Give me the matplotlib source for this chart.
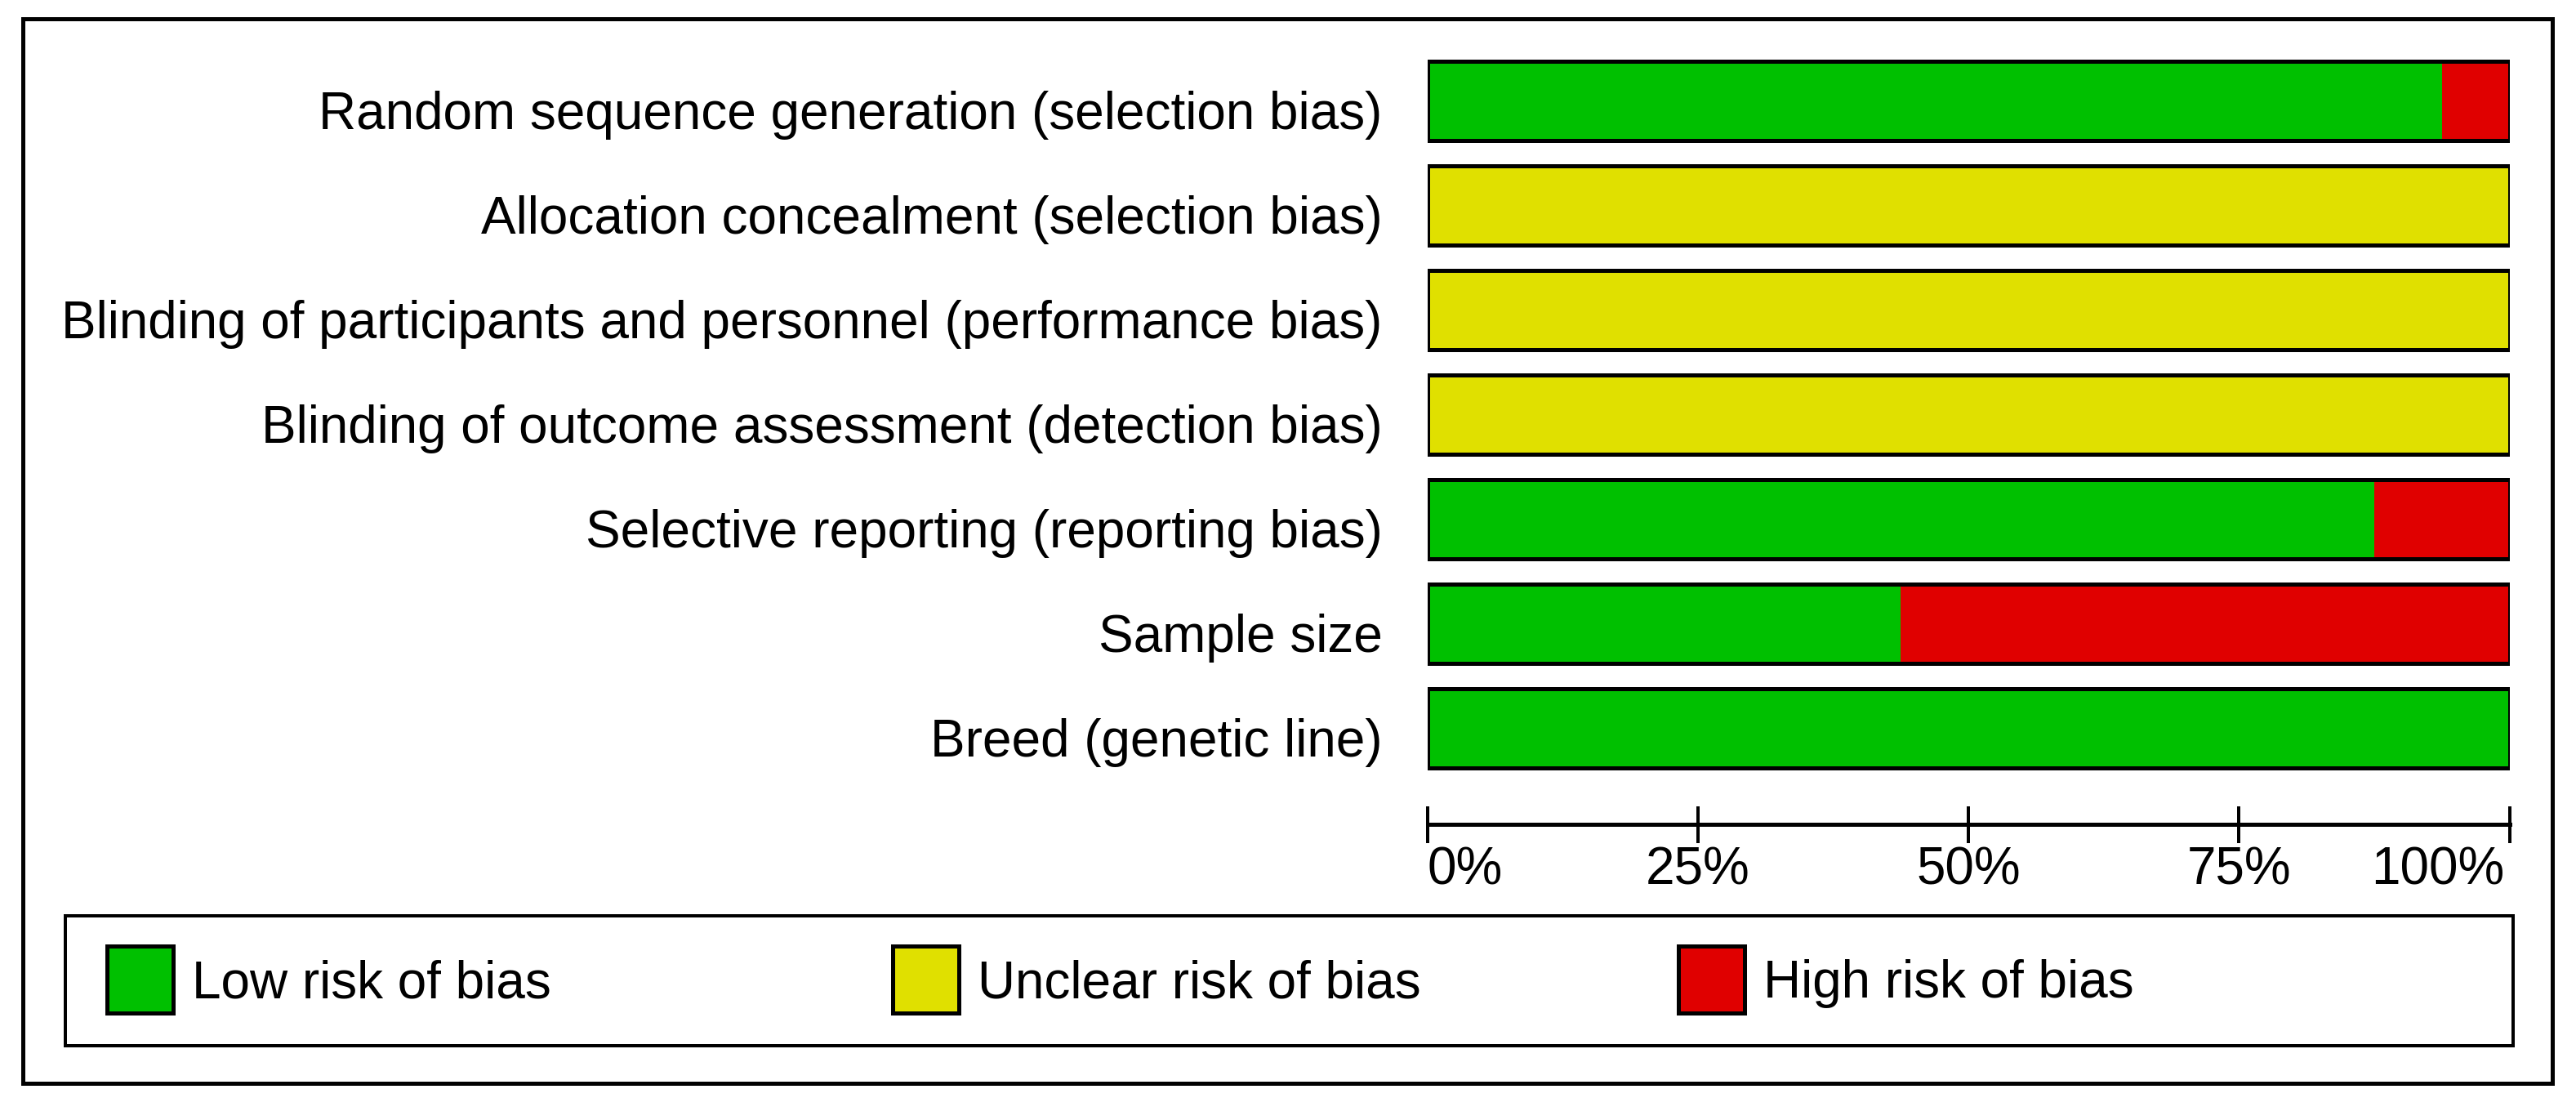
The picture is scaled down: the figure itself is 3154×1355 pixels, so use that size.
import matplotlib
matplotlib.use('Agg')
import matplotlib.pyplot as plt
from matplotlib.patches import Rectangle
from matplotlib.transforms import offset_copy, ScaledTranslation
import numpy as np

# ---- data ----
domains = [
    "Random sequence generation (selection bias)",
    "Allocation concealment (selection bias)",
    "Blinding of participants and personnel (performance bias)",
    "Blinding of outcome assessment (detection bias)",
    "Selective reporting (reporting bias)",
    "Sample size",
    "Breed (genetic line)",
]
low = [93.75, 0, 0, 0, 87.5, 43.75, 100]
unclear = [0, 100, 100, 100, 0, 0, 0]
high = [6.25, 0, 0, 0, 12.5, 56.25, 0]
ticks = [0, 25, 50, 75, 100]
tick_labels = ["0%", "25%", "50%", "75%", "100%"]
legend_labels = ["Low risk of bias", "Unclear risk of bias", "High risk of bias"]
colors = ["#00C000", "#E0E000", "#E00000"]

# ---- layout helpers (pixel -> figure fraction) ----
W, H = 3154, 1355
DPI = 100
plt.rcParams['font.family'] = ['Liberation Sans', 'DejaVu Sans']
FS = 46

fig = plt.figure(figsize=(W / DPI, H / DPI), dpi=DPI)
fig.patch.set_facecolor('white')


def fx(x):
    return x / W


def fy(y):
    return 1 - y / H


def pt(px):
    return px * 72 / DPI


def frame_rect(x0, y0, x1, y1, lw, **kw):
    r = Rectangle((fx(x0), fy(y1)), fx(x1) - fx(x0), fy(y0) - fy(y1),
                  transform=fig.transFigure, lw=pt(lw), **kw)
    fig.patches.append(r)
    return r


# outer frame
frame_rect(27.5, 22.5, 3124.5, 1325.5, 5, fill=False, ec='black')

# ---- bars ----
ax = fig.add_axes([fx(1747.5), fy(955), fx(3072.5) - fx(1747.5), fy(59) - fy(955)])
n = len(domains)
y = np.arange(n)
bar_h = 97 / 128
low_a = np.array(low)
unc_a = np.array(unclear)
high_a = np.array(high)
ax.barh(y, low_a, height=bar_h, color=colors[0], lw=0)
ax.barh(y, unc_a, left=low_a, height=bar_h, color=colors[1], lw=0)
ax.barh(y, high_a, left=low_a + unc_a, height=bar_h, color=colors[2], lw=0)
ax.barh(y, low_a + unc_a + high_a, height=bar_h, fill=False,
        edgecolor='black', lw=pt(5))
ax.set_xlim(0, 100)
ax.set_ylim(n - 0.5, -0.5)
ax.set_facecolor('none')

for s in ['top', 'right', 'left']:
    ax.spines[s].set_visible(False)
ax.spines['bottom'].set_position(('outward', pt(54)))
ax.spines['bottom'].set_linewidth(pt(5))
ax.set_yticks([])
ax.set_xticks(ticks)
ax.set_xticklabels(tick_labels)
ax.tick_params(axis='x', direction='inout', length=pt(45), width=pt(4),
               labelsize=FS, pad=pt(4), colors='black')
lbls = ax.get_xticklabels()
lbls[0].set_ha('left')
lbls[-1].set_ha('right')
lbls[-1].set_transform(lbls[-1].get_transform() +
                       ScaledTranslation(-6 / DPI, 0, fig.dpi_scale_trans))

# row labels
for i, lab in enumerate(domains):
    ax.text(0, i, lab, transform=offset_copy(ax.transData, fig=fig, x=-55, y=-35, units='dots'),
            ha='right', va='baseline', fontsize=FS, color='black')

# ---- legend ----
frame_rect(79.5, 1121, 3077, 1279.5, 4, fill=False, ec='black')
for k, (lab, col) in enumerate(zip(legend_labels, colors)):
    x0 = 128 + 962 * k
    frame_rect(x0 + 2.5, 1157.5, x0 + 83.5, 1239.5, 5, fc=col, ec='black')
    fig.text(fx(x0 + 107), fy(1221), lab, ha='left', va='baseline', fontsize=FS, color='black')

fig.savefig('out.png', dpi=DPI, facecolor='white')
